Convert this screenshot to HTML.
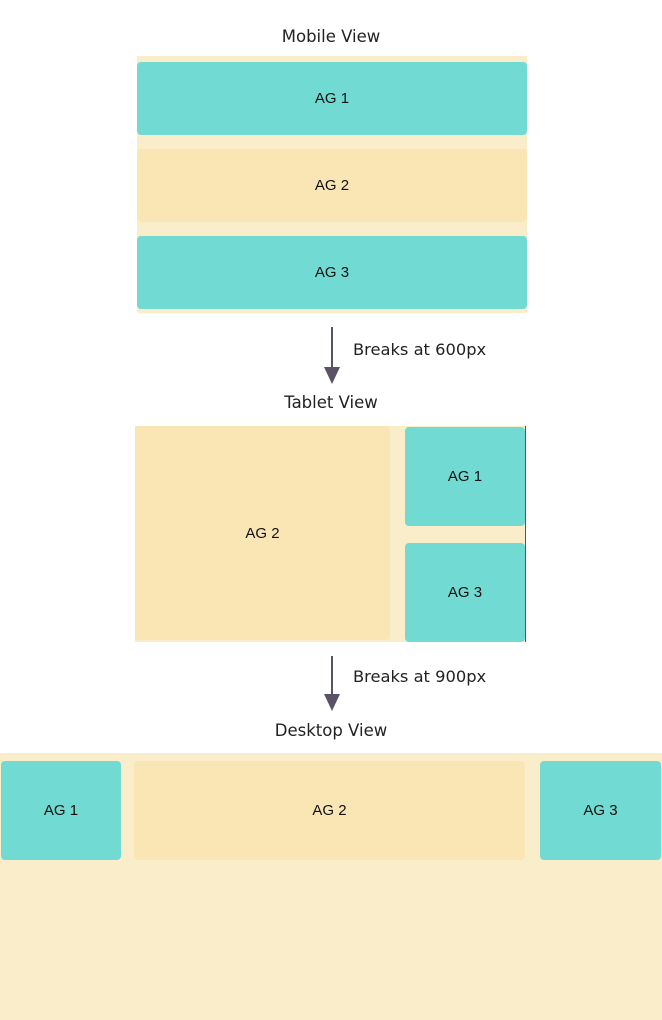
<!DOCTYPE html>
<html><head><style>
body{margin:0;width:662px;height:1020px;background:#fff;position:relative;overflow:hidden;font-family:"Liberation Sans",sans-serif;}
div{position:absolute;box-sizing:border-box;}
.t{background:#71dad3;border-radius:4px;display:flex;align-items:center;justify-content:center;font-size:15px;color:#111;}
.y{background:#fae6b5;border-radius:4px;display:flex;align-items:center;justify-content:center;font-size:15px;color:#111;}
.bg{background:#faedc9;}
.h{font-family:"DejaVu Sans","Liberation Sans",sans-serif;font-size:16.5px;color:#222;text-align:center;width:662px;left:0;}
.l{font-family:"DejaVu Sans","Liberation Sans",sans-serif;font-size:16.3px;color:#222;}
</style></head><body>
<div class="h" style="top:27px;">Mobile View</div>
<div class="bg" style="left:137px;top:56px;width:390px;height:257px;"></div>
<div class="t" style="left:137px;top:62px;width:390px;height:73px;">AG 1</div>
<div class="y" style="left:137px;top:149px;width:390px;height:73px;">AG 2</div>
<div class="t" style="left:137px;top:236px;width:390px;height:73px;">AG 3</div>

<svg style="position:absolute;left:0;top:0" width="662" height="1020">
<line x1="332" y1="327" x2="332" y2="374" stroke="#5b5268" stroke-width="2"/>
<polygon points="324,367 340,367 332,384" fill="#5b5268"/>
<line x1="332" y1="656" x2="332" y2="701" stroke="#5b5268" stroke-width="2"/>
<polygon points="324,694 340,694 332,711" fill="#5b5268"/>
</svg>
<div class="l" style="left:353px;top:340px;">Breaks at 600px</div>
<div class="h" style="top:393px;">Tablet View</div>
<div class="bg" style="left:135px;top:426px;width:391px;height:216px;"></div>
<div style="left:525px;top:426px;width:1px;height:216px;background:#555;"></div>
<div class="y" style="left:135px;top:426px;width:255px;height:214px;border-radius:0 4px 4px 0;">AG 2</div>
<div class="t" style="left:405px;top:427px;width:120px;height:99px;">AG 1</div>
<div class="t" style="left:405px;top:543px;width:120px;height:99px;">AG 3</div>

<div class="l" style="left:353px;top:667px;">Breaks at 900px</div>
<div class="h" style="top:721px;">Desktop View</div>
<div class="bg" style="left:0;top:753px;width:662px;height:267px;"></div>
<div class="t" style="left:1px;top:761px;width:120px;height:99px;">AG 1</div>
<div class="y" style="left:134px;top:761px;width:391px;height:99px;">AG 2</div>
<div class="t" style="left:540px;top:761px;width:121px;height:99px;">AG 3</div>
</body></html>
